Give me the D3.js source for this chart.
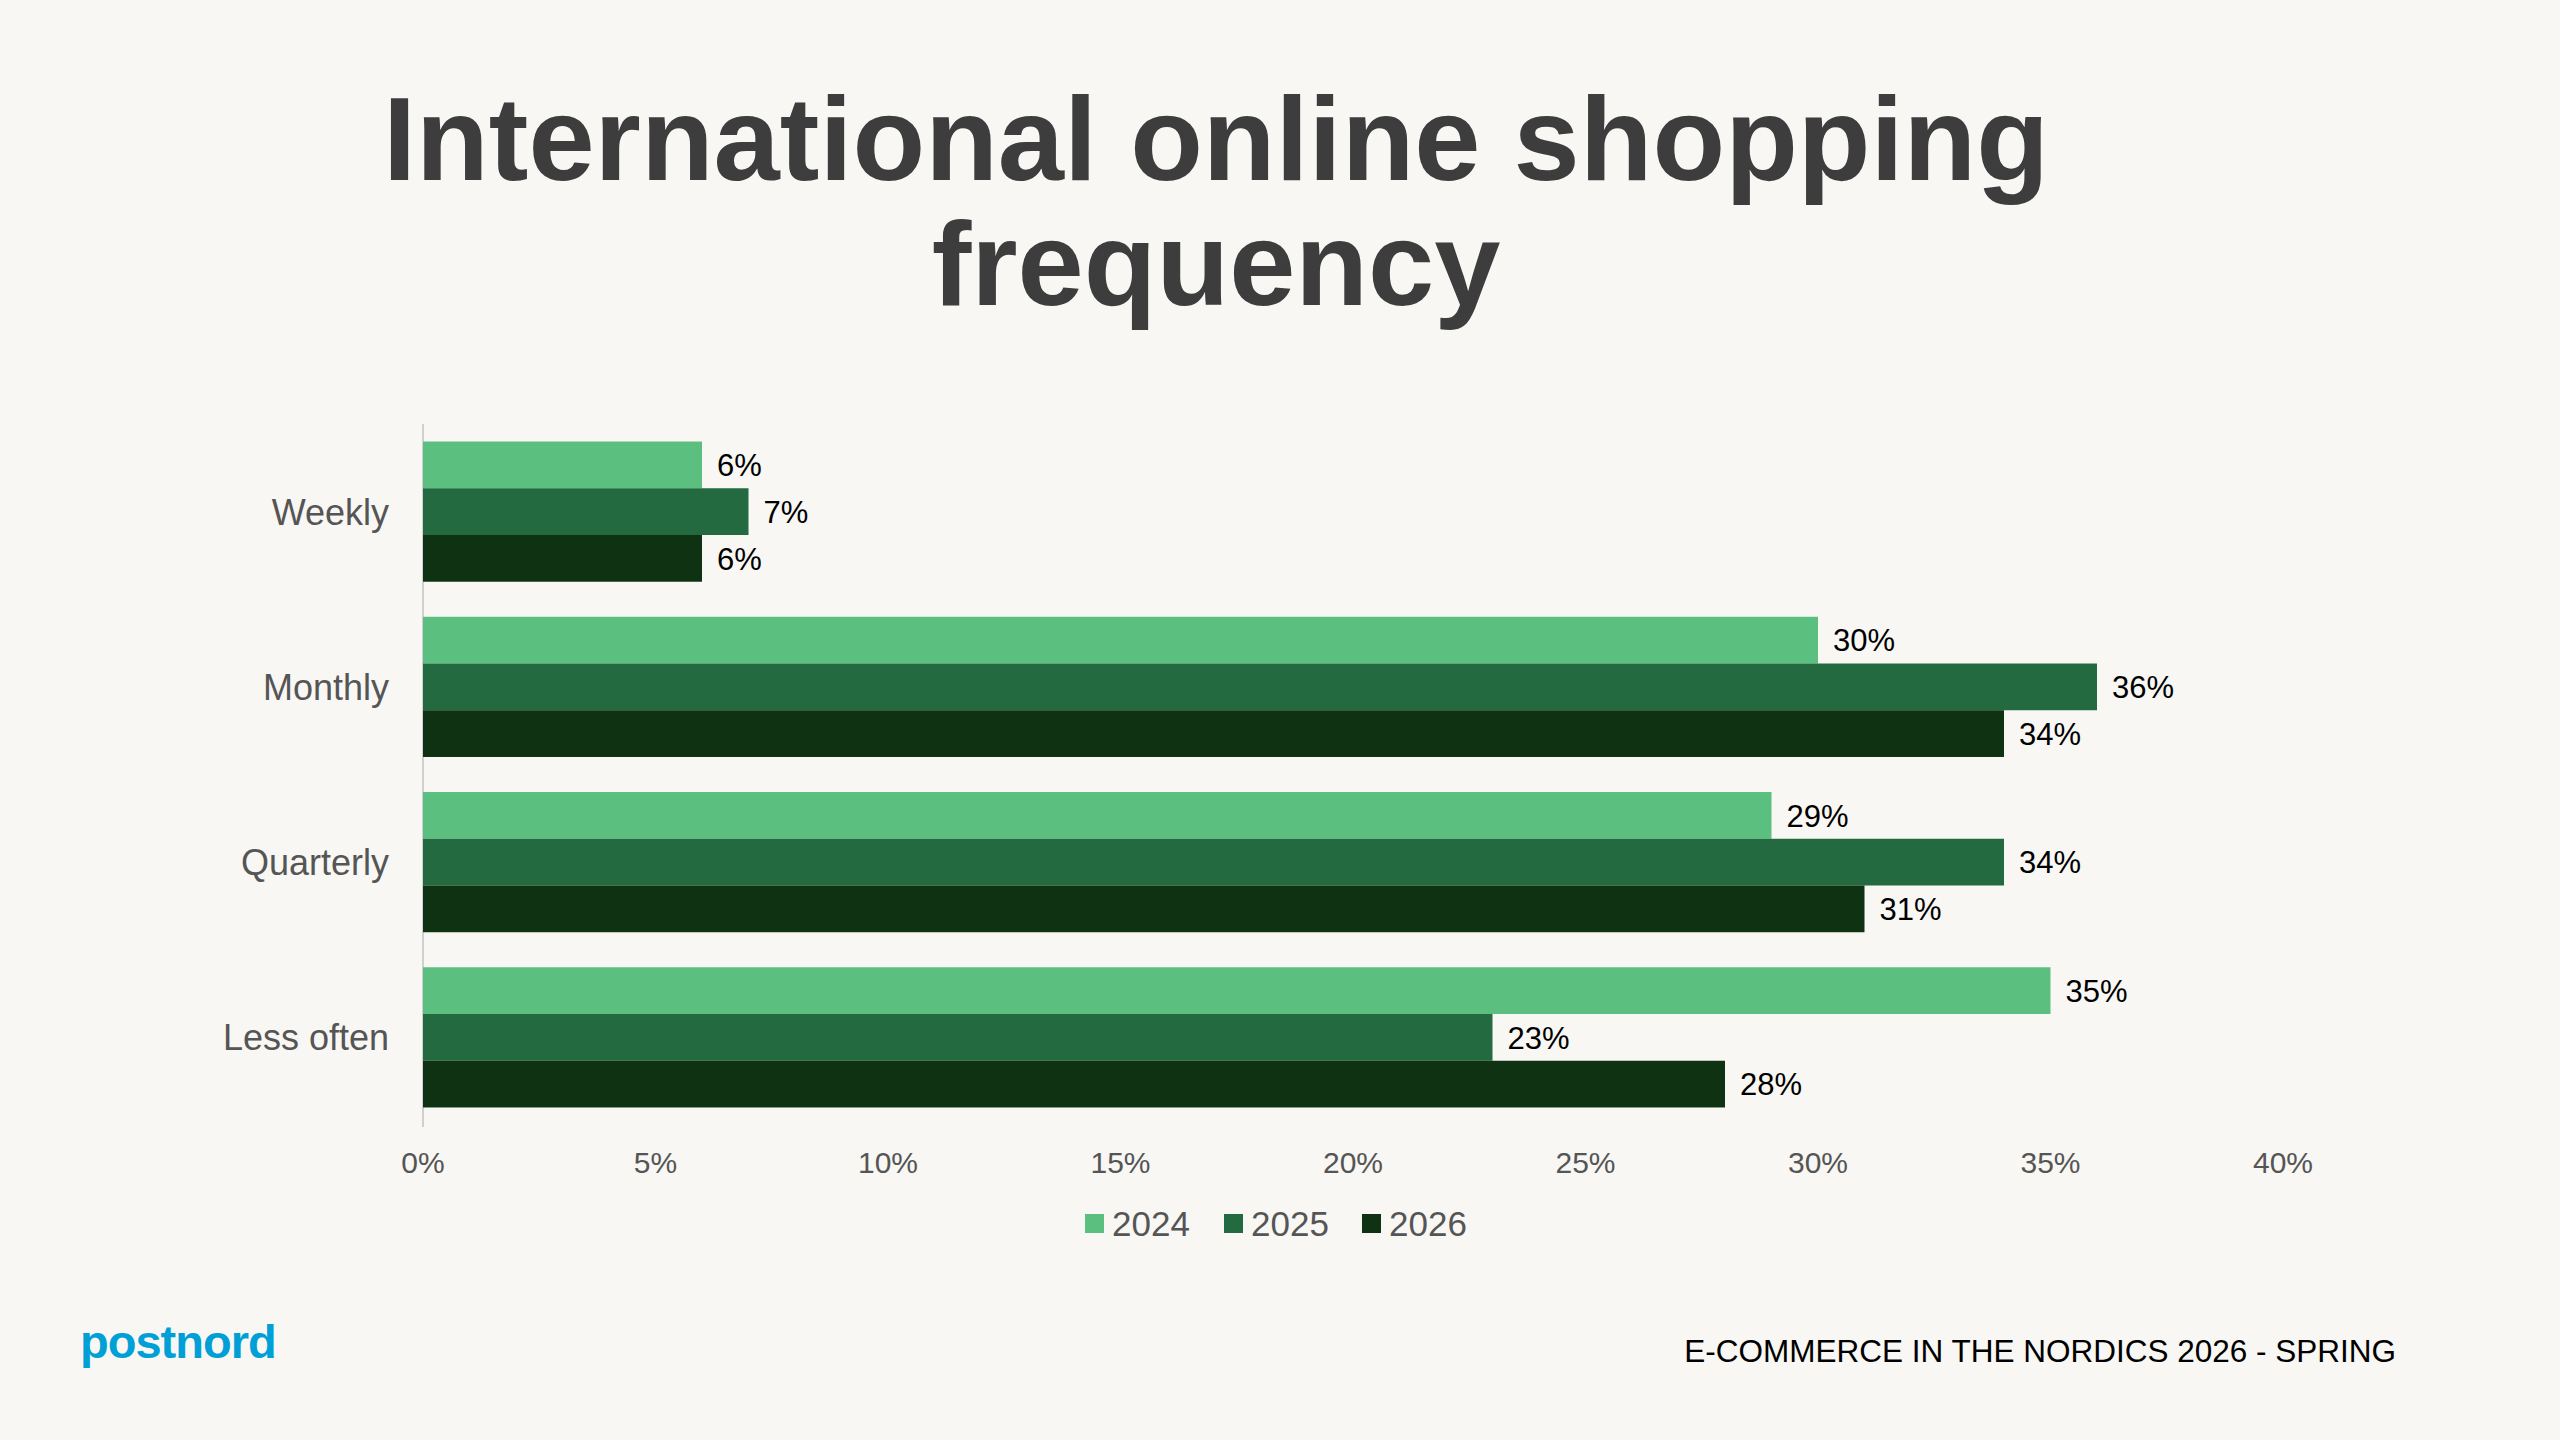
<!DOCTYPE html>
<html><head><meta charset="utf-8">
<script src="https://cdn.jsdelivr.net/npm/d3@7"></script>
<style>body{margin:0;background:#f8f7f4;}svg{display:block;font-family:"Liberation Sans",Arial,sans-serif;}</style>
</head><body><svg id="c" width="2560" height="1440"></svg>
<script>
var categories = ["Weekly", "Monthly", "Quarterly", "Less often"];
var years = ["2024", "2025", "2026"];
var v2024 = [6, 30, 29, 35];
var v2025 = [7, 36, 34, 23];
var v2026 = [6, 34, 31, 28];
var xTicks = [0, 5, 10, 15, 20, 25, 30, 35, 40];
var colors = ["#5bbf7f", "#236a40", "#0e3212"];

var series = [v2024, v2025, v2026];
var svg = d3.select("#c");
svg.append("rect").attr("width", 2560).attr("height", 1440).attr("fill", "#f8f7f4");

// title
svg.append("text").attr("x", 1216).attr("y", 180).attr("text-anchor", "middle")
  .attr("font-size", 119).attr("font-weight", "bold").attr("fill", "#3d3d3d")
  .text("International online shopping");
svg.append("text").attr("x", 1216).attr("y", 305).attr("text-anchor", "middle")
  .attr("font-size", 119).attr("font-weight", "bold").attr("fill", "#3d3d3d")
  .text("frequency");

var x = d3.scaleLinear().domain([0, 40]).range([423, 2283]);
var y = d3.scaleBand().domain(categories).range([424, 1125]).paddingInner(0.2).paddingOuter(0.1);
var yy = d3.scaleBand().domain(years).range([0, y.bandwidth()]);

// axis line
svg.append("line").attr("x1", x(0)).attr("x2", x(0)).attr("y1", 424).attr("y2", 1127)
  .attr("stroke", "#d0d0d0").attr("stroke-width", 2);

categories.forEach(function(c, i) {
  var g = svg.append("g").attr("transform", "translate(0," + y(c) + ")");
  years.forEach(function(yr, j) {
    var v = series[j][i];
    g.append("rect").attr("x", x(0)).attr("y", yy(yr)).attr("width", x(v) - x(0))
      .attr("height", yy.bandwidth()).attr("fill", colors[j]);
    g.append("text").attr("x", x(v) + 15).attr("y", yy(yr) + yy.bandwidth() / 2)
      .attr("dy", "0.36em").attr("font-size", 31).attr("fill", "#000").text(v + "%");
  });
  svg.append("text").attr("x", 389).attr("y", y(c) + y.bandwidth() / 2).attr("dy", "0.36em")
    .attr("text-anchor", "end").attr("font-size", 36).attr("fill", "#555").text(c);
});

xTicks.forEach(function(t) {
  svg.append("text").attr("x", x(t)).attr("y", 1173).attr("text-anchor", "middle")
    .attr("font-size", 30).attr("fill", "#555").text(t + "%");
});

// legend
var legX = [1085, 1224, 1362];
years.forEach(function(yr, j) {
  svg.append("rect").attr("x", legX[j]).attr("y", 1214).attr("width", 19).attr("height", 19).attr("fill", colors[j]);
  svg.append("text").attr("x", legX[j] + 27).attr("y", 1236).attr("font-size", 35).attr("fill", "#555").text(yr);
});

svg.append("text").attr("x", 80).attr("y", 1358).attr("font-size", 47).attr("font-weight", 900)
  .attr("fill", "#00a0d6").attr("letter-spacing", -1).text("postnord");
svg.append("text").attr("x", 2396).attr("y", 1362).attr("text-anchor", "end").attr("font-size", 31.5)
  .attr("fill", "#000").text("E-COMMERCE IN THE NORDICS 2026 - SPRING");
</script></body></html>
